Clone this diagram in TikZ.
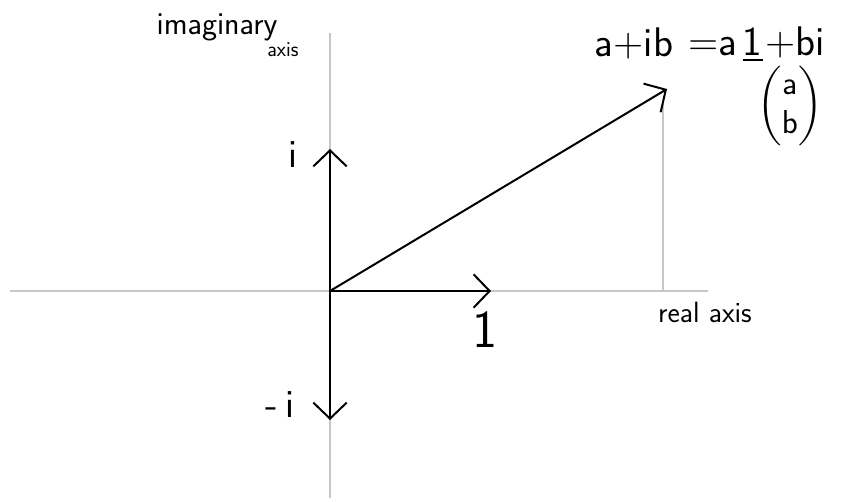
\documentclass[tikz,border=0pt]{standalone}
\usepackage{amsmath}
\usetikzlibrary{arrows.meta}

\begin{document}
\begin{tikzpicture}[x=0.75pt,y=0.75pt,yscale=-1,xscale=1,
  axisline/.style={draw=black!22,line width=1.5pt},
  vec/.style={draw=black,line width=1.5pt,-{Straight Barb[length=12pt,width=25pt,line width=1.5pt]}},
  lbl/.style={font=\sffamily\fontsize{24}{26}\selectfont,inner sep=0pt},
  big/.style={lbl,font=\sffamily\fontsize{31}{33}\selectfont}
]
\useasboundingbox (0,0) rectangle (857,501);

% axes
\coordinate (O) at (330,291);
\coordinate (xl) at (10,291);
\coordinate (xr) at (708,291);
\coordinate (yt) at (330,33);
\coordinate (yb) at (330,498);
\draw[axisline] (xl) -- (xr);
\draw[axisline] (yt) -- (yb);

% a+ib and its projection
\coordinate (z) at (667,89);
\coordinate (zt) at (663,101);
\coordinate (zf) at (663,291);
\draw[axisline] (zt) -- (zf);

% basis vectors
\coordinate (one) at (491,291);
\coordinate (ii) at (330,149);
\coordinate (mi) at (330,420);
\draw[vec] (O) -- (one);
\draw[vec] (O) -- (ii);
\draw[vec] (O) -- (mi);
\draw[vec] (O) -- (z);

\node[lbl] (imlbl) at (217,27) {imaginary};
\node[lbl,font=\sffamily\fontsize{16}{18}\selectfont] (imax) at (283,50) {axis};
\node[lbl,font=\sffamily\fontsize{30}{32}\selectfont] (ilbl) at (293,155) {i};
\node[lbl,font=\sffamily\fontsize{30}{32}\selectfont] (milbl) at (280,405) {-\,i};
\node[lbl,font=\sffamily\fontsize{40}{42}\selectfont] (onelbl) at (485,330) {1};
\node[lbl,font=\sffamily\fontsize{22}{24}\selectfont] (relbl) at (705,312) {real axis};

% a+ib = a1 + bi
\node[big] (zlbl) at (634,43) {a+ib};
\node[big,anchor=base west] (zeq) at (688,55) {=a};
\node[big,anchor=base west] (zone) at ([xshift=4]zeq.base east) {1};
\node[big,anchor=base west] (zbi) at ([xshift=2]zone.base east) {+bi};
\draw[line width=1.5pt] ([yshift=4]zone.base west) -- ([yshift=4]zone.base east);
\node[lbl,font=\fontsize{27}{29}\selectfont] (zvec) at (790,106) {$\begin{pmatrix}\mathsf{a}\\\mathsf{b}\end{pmatrix}$};
\end{tikzpicture}
\end{document}
